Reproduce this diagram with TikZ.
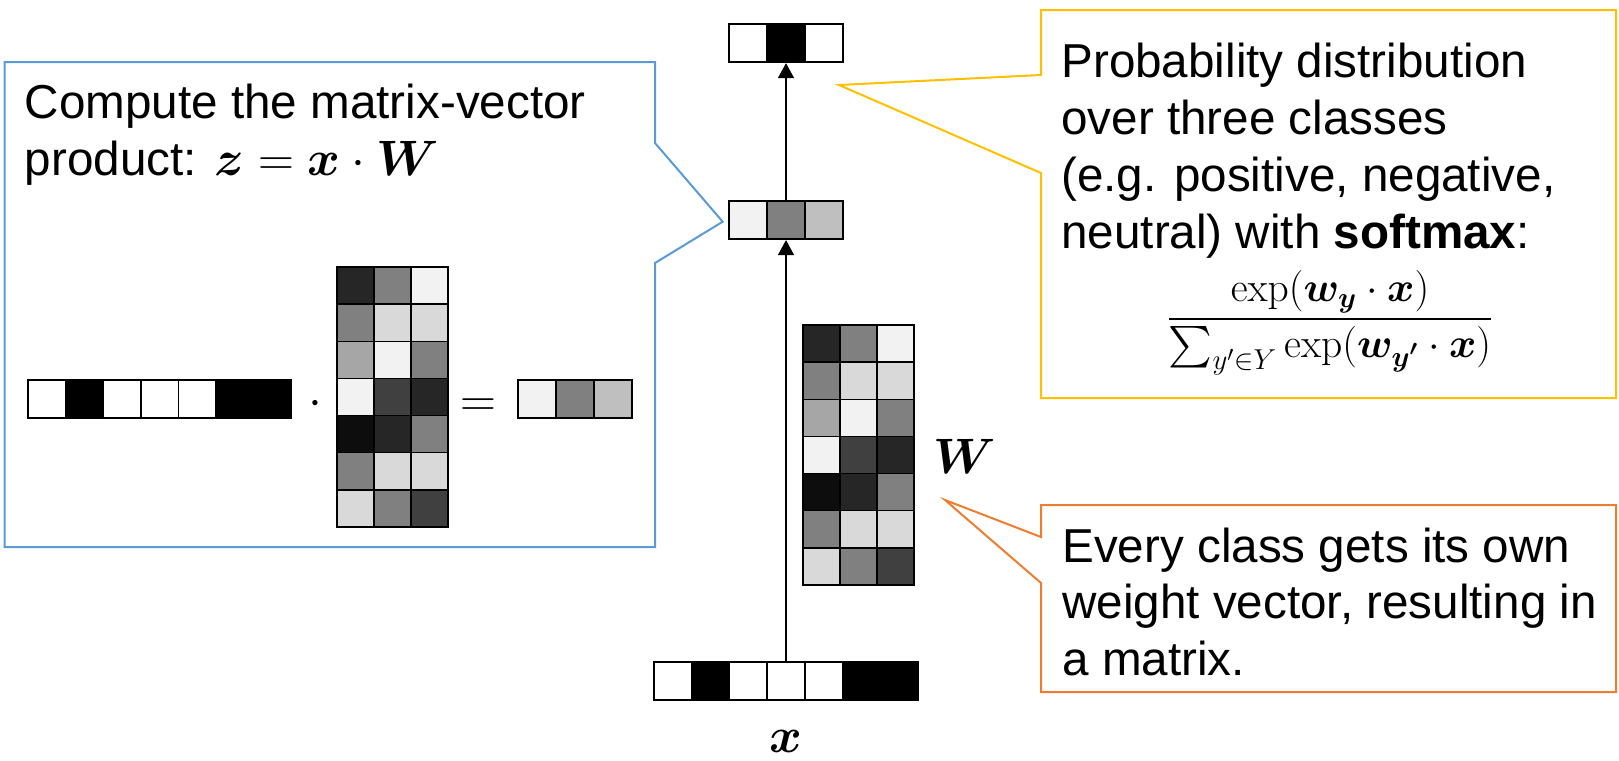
\documentclass[tikz,border=0pt]{standalone}
\usepackage{amsmath}
\usepackage[no-math]{fontspec}
\setmainfont{Liberation Sans}
\usepackage{bm}
\usetikzlibrary{arrows.meta}

% callout outline colours
\definecolor{callblue}{HTML}{5B9BD5}
\definecolor{callgold}{HTML}{FFC000}
\definecolor{callorange}{HTML}{ED7D31}
% grey levels of the weight cells
\definecolor{g0D}{HTML}{0D0D0D}
\definecolor{g26}{HTML}{262626}
\definecolor{g40}{HTML}{404040}
\definecolor{g80}{HTML}{808080}
\definecolor{gA6}{HTML}{A6A6A6}
\definecolor{gBF}{HTML}{BFBFBF}
\definecolor{gD9}{HTML}{D9D9D9}
\definecolor{gF2}{HTML}{F2F2F2}

\tikzset{
  cellbox/.style={draw=black, line width=0.7pt},
  vecframe/.style={draw=black, line width=1.1pt, inner sep=0pt, minimum height=19pt},
  flow/.style={line width=0.6pt, -{Triangle[width=8pt,length=7.5pt]}},
  bubble/.style={line width=1pt, line join=miter},
  bodytext/.style={anchor=base west, inner sep=0pt, font=\fontsize{23.8}{28.5}\selectfont},
  mathlabel/.style={anchor=base, inner sep=0pt, font=\fontsize{23.8}{28.5}\selectfont},
}

% a horizontal strip of shaded cells: x0, y0 (top left), cell width, cell height, colours
\newcommand\cellstrip[5]{%
  \foreach \c [count=\i from 0] in #5
    \filldraw[cellbox, fill=\c] ({#1+\i*#3},#2) rectangle ++(#3,#4);
}

\begin{document}
\begin{tikzpicture}[x=0.5pt, y=-0.5pt]
\useasboundingbox (0,0) rectangle (1619,761);

% ---------- callout outlines ----------
\draw[bubble, callblue] (4.5,62) -- (655,62) -- (655,143) -- (722.7,221.7)
  -- (655,263) -- (655,547) -- (4.5,547) -- cycle;
\draw[bubble, callgold] (1041,10) -- (1616,10) -- (1616,398) -- (1041,398)
  -- (1041,173) -- (839,85) -- (1041,75) -- cycle;
\draw[bubble, callorange] (1041,505) -- (1616,505) -- (1616,692) -- (1041,692)
  -- (1041,583) -- (945,500) -- (1041,537) -- cycle;

% ---------- network column ----------
% output distribution
\cellstrip{729}{24}{38}{38}{{white,black,white}}
\node[vecframe, minimum width=57pt] (ovec) at (786,43) {};
% scores z
\cellstrip{729}{201}{38}{38}{{gF2,g80,gBF}}
\node[vecframe, minimum width=57pt] (zvec) at (786,220) {};
% input x
\cellstrip{654}{662}{37.7}{38}{{white,black,white,white,white,black,black}}
\node[vecframe, minimum width=131.95pt] (xvec) at (786,681) {};
% weight matrix W
\foreach \row [count=\r from 0] in
  {{g26,g80,gF2},{g80,gD9,gD9},{gA6,gF2,g80},{gF2,g40,g26},
   {g0D,g26,g80},{g80,gD9,gD9},{gD9,g80,g40}}
  \cellstrip{803}{325+\r*37.14}{37}{37.14}{\row}
\node[vecframe, minimum width=55.5pt, minimum height=130pt] (wmat) at (858.5,455) {};

\draw[flow] (xvec.north) -- (zvec.south);
\draw[flow] (zvec.north) -- (ovec.south);

\node[mathlabel] (wlabel) at (965,473) {$\bm{W}$};
\node[mathlabel] (xlabel) at (786,752) {$\bm{x}$};

% ---------- blue callout: matrix-vector product ----------
\node[bodytext] (blue1) at (24.5,118.3) {Compute the matrix-vector};
\node[bodytext] (blue2) at (24.5,175) {product: $\bm{z}=\bm{x}\cdot\bm{W}$};

\cellstrip{28}{380}{37.6}{38}{{white,black,white,white,white,black,black}}
\node[vecframe, minimum width=131.6pt] (rowx) at (159.6,399) {};
\node[mathlabel] (dotop) at (315,415) {$\cdot$};
\foreach \row [count=\r from 0] in
  {{g26,g80,gF2},{g80,gD9,gD9},{gA6,gF2,g80},{gF2,g40,g26},
   {g0D,g26,g80},{g80,gD9,gD9},{gD9,g80,g40}}
  \cellstrip{337}{267+\r*37.14}{37}{37.14}{\row}
\node[vecframe, minimum width=55.5pt, minimum height=130pt] (smallw) at (392.5,397) {};
\node[mathlabel] (eqop) at (478.6,416) {$=$};
\cellstrip{518}{380}{38}{38}{{gF2,g80,gBF}}
\node[vecframe, minimum width=57pt] (rowz) at (575,399) {};

% ---------- gold callout: softmax ----------
\node[bodytext] (gold1) at (1061,77) {Probability distribution};
\node[bodytext] (gold2) at (1061,134) {over three classes};
\node[bodytext] (gold3) at (1061,191) {(e.g. positive, negative,};
\node[bodytext] (gold4) at (1061,248) {neutral) with \textbf{softmax}:};
\node[mathlabel, font=\fontsize{21}{25}\selectfont] (softmax) at (1330,329.5)
  {$\dfrac{\exp(\bm{w_{y}}\cdot\bm{x})}{\sum_{y'\in Y}\exp(\bm{w_{y'}}\cdot\bm{x})}$};

% ---------- orange callout: weight matrix ----------
\node[bodytext] (orange1) at (1062,562) {Every class gets its own};
\node[bodytext] (orange2) at (1062,618) {weight vector, resulting in};
\node[bodytext] (orange3) at (1062,675) {a matrix.};
\end{tikzpicture}
\end{document}
